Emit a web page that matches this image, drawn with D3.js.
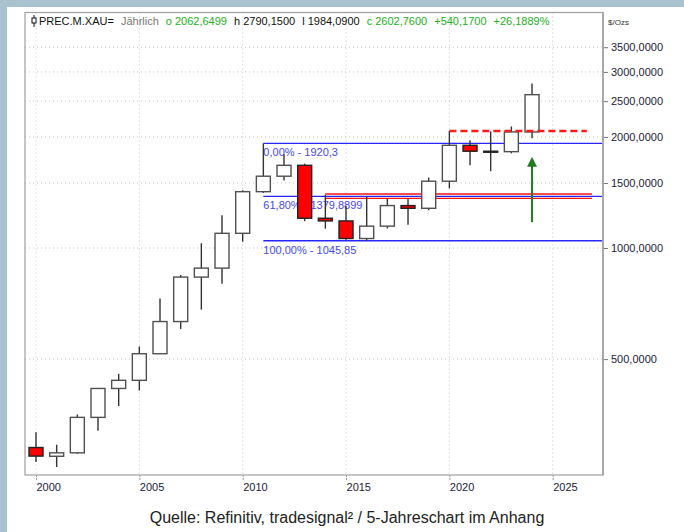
<!DOCTYPE html>
<html>
<head>
<meta charset="utf-8">
<script src="https://cdn.jsdelivr.net/npm/d3@7"></script>
<style>
  body { margin: 0; background: #fff; }
  svg text { font-family: "Liberation Sans", Arial, sans-serif; }
</style>
</head>
<body>
<div id="container"></div>
<script>
/* DATA (yearly gold candles, $/oz) */
const years = [2000, 2001, 2002, 2003, 2004, 2005, 2006, 2007, 2008, 2009, 2010, 2011, 2012,
  2013, 2014, 2015, 2016, 2017, 2018, 2019, 2020, 2021, 2022, 2023, 2024];
const opens = [288, 272.7, 278.6, 347.6, 416.3, 438, 517, 632, 834, 882, 1096, 1421, 1565,
  1675, 1204, 1184, 1061, 1146, 1303, 1281, 1517, 1898, 1829, 1824, 2062.65];
const highs = [317, 293, 354, 417, 456, 541, 730, 845, 1030, 1226, 1434, 1921, 1796,
  1692, 1395, 1300, 1380, 1360, 1360, 1552, 2075, 1959, 2070, 2135, 2790.15];
const lows = [263, 255, 277, 320, 373, 411, 517, 603, 681, 800, 1040, 1410, 1524,
  1182, 1128, 1052, 1046, 1130, 1156, 1266, 1451, 1677, 1615, 1805, 1984.09];
const closes = [273, 278.6, 347.6, 416.3, 438, 517, 632, 834, 882, 1096, 1421, 1565, 1675,
  1204, 1184, 1061, 1146, 1303, 1281, 1517, 1898, 1829, 1824, 2062.65, 2602.76];

const yTicks = [500, 1000, 1500, 2000, 2500, 3000, 3500];
const yTickLabels = ["500,0000", "1000,0000", "1500,0000", "2000,0000", "2500,0000", "3000,0000", "3500,0000"];
const xTicks = [2000, 2005, 2010, 2015, 2020, 2025];

// fibonacci retracement (from 2011 high)
const fibStart = 2011;
const fibValues = [1920.3, 1379.8899, 1045.85];
const fibLabels = ["0,00% - 1920,3", "61,80% - 1379,8899", "100,00% - 1045,85"];

// red support band, dashed resistance, arrow
const bandStart = 2014, bandEnd = 2026.9;
const bandValues = [1400, 1363];
const resistStart = 2020, resistEnd = 2026.65, resistValue = 2075;
const arrowYear = 2024, arrowFrom = 1175, arrowTo = 1755;

const titleParts = ["PREC.M.XAU=", "Jährlich", "o 2062,6499", "h 2790,1500", "l 1984,0900",
  "c 2602,7600", "+540,1700", "+26,1889%"];
const unitLabel = "$/Ozs";
const caption = "Quelle: Refinitiv, tradesignal² / 5-Jahreschart im Anhang";

/* CONSTANTS */
const width = 684, height = 532;
const plot = {left: 25, right: 603, top: 12.5, bottom: 475};

const svg = d3.select("#container").append("svg")
  .attr("width", width)
  .attr("height", height);

// frame bands
svg.append("rect").attr("x", 0).attr("y", 0).attr("width", width).attr("height", 7).attr("fill", "#a8c2cf");
svg.append("rect").attr("x", 0).attr("y", 0).attr("width", 7).attr("height", height).attr("fill", "#a8c2cf");

/* SCALES */
const xScale = d3.scaleLinear().domain([2000, 2025]).range([36, 552.7]);
const yScale = d3.scaleLog().domain([1000, 2000]).range([248, 136.9]);

/* GRID */
svg.append("g").selectAll("line")
  .data(yTicks)
  .join("line")
  .attr("x1", plot.left).attr("x2", plot.right)
  .attr("y1", d => yScale(d)).attr("y2", d => yScale(d))
  .attr("stroke", "#c4c4c4").attr("stroke-dasharray", "1,3");

svg.append("g").selectAll("line")
  .data(xTicks)
  .join("line")
  .attr("x1", d => xScale(d)).attr("x2", d => xScale(d))
  .attr("y1", plot.top).attr("y2", plot.bottom)
  .attr("stroke", "#c4c4c4").attr("stroke-dasharray", "1,3");

/* AXES */
const yAxis = d3.axisRight(yScale)
  .tickValues(yTicks)
  .tickFormat((d, i) => yTickLabels[i])
  .tickSize(5)
  .tickPadding(3);
const yAxisGroup = svg.append("g")
  .attr("transform", `translate(${plot.right}, 0)`)
  .call(yAxis);
yAxisGroup.select(".domain").remove();
yAxisGroup.selectAll("line").attr("stroke", "#777");
yAxisGroup.selectAll("text")
  .attr("font-family", "Liberation Sans, Arial, sans-serif")
  .attr("font-size", 11).attr("fill", "#1c1c3c");

const xAxis = d3.axisBottom(xScale)
  .tickValues(xTicks)
  .tickFormat(d3.format("d"))
  .tickSize(6)
  .tickPadding(2);
const xAxisGroup = svg.append("g")
  .attr("transform", `translate(0, ${plot.bottom})`)
  .call(xAxis);
xAxisGroup.select(".domain").remove();
xAxisGroup.selectAll("line").attr("stroke", "#999").attr("stroke-dasharray", "2,1");
xAxisGroup.selectAll("text")
  .attr("text-anchor", "start")
  .attr("font-family", "Liberation Sans, Arial, sans-serif")
  .attr("font-size", 11).attr("fill", "#1c1c3c");

svg.append("text")
  .attr("x", 608).attr("y", 25)
  .attr("font-size", 8).attr("fill", "#333")
  .text(unitLabel);

/* FIBONACCI + BAND LINES */
svg.append("g").selectAll("line")
  .data(bandValues)
  .join("line")
  .attr("x1", xScale(bandStart)).attr("x2", xScale(bandEnd))
  .attr("y1", d => yScale(d)).attr("y2", d => yScale(d))
  .attr("stroke", "#ff1010").attr("stroke-width", 1.4);

svg.append("g").selectAll("line")
  .data(fibValues)
  .join("line")
  .attr("x1", xScale(fibStart)).attr("x2", plot.right)
  .attr("y1", d => yScale(d)).attr("y2", d => yScale(d))
  .attr("stroke", "#2626ff").attr("stroke-width", 1.4);

svg.append("g").selectAll("text")
  .data(fibValues)
  .join("text")
  .attr("x", xScale(fibStart))
  .attr("y", d => yScale(d) + 13)
  .attr("font-size", 11)
  .attr("fill", "#4848f0")
  .text((d, i) => fibLabels[i]);

/* CANDLES */
const candles = years.map((yr, i) => ({yr, o: opens[i], h: highs[i], l: lows[i], c: closes[i]}));
const bodyW = 14;

svg.append("g").selectAll("line")
  .data(candles)
  .join("line")
  .attr("x1", d => xScale(d.yr)).attr("x2", d => xScale(d.yr))
  .attr("y1", d => yScale(d.h)).attr("y2", d => yScale(d.l))
  .attr("stroke", "#333").attr("stroke-width", 1.4);

svg.append("g").selectAll("rect")
  .data(candles)
  .join("rect")
  .attr("x", d => xScale(d.yr) - bodyW / 2)
  .attr("width", bodyW)
  .attr("y", d => yScale(Math.max(d.o, d.c)))
  .attr("height", d => Math.max(1, Math.abs(yScale(d.o) - yScale(d.c))))
  .attr("fill", d => d.c >= d.o ? "#fff" : "#ff0000")
  .attr("stroke", d => d.c >= d.o ? "#505050" : "#222")
  .attr("stroke-width", 1.4);

// dashed resistance
svg.append("line")
  .attr("x1", xScale(resistStart)).attr("x2", xScale(resistEnd))
  .attr("y1", yScale(resistValue)).attr("y2", yScale(resistValue))
  .attr("stroke", "#ff1a1a").attr("stroke-width", 2.5)
  .attr("stroke-dasharray", "7,4");

// green arrow
svg.append("defs").append("marker")
  .attr("id", "head")
  .attr("viewBox", "0 0 10 10")
  .attr("refX", 2).attr("refY", 5)
  .attr("markerWidth", 5).attr("markerHeight", 5)
  .attr("orient", "auto")
  .append("path")
  .attr("d", "M0,0 L10,5 L0,10 Z")
  .attr("fill", "#1f7f1f");

svg.append("line")
  .attr("x1", xScale(arrowYear)).attr("x2", xScale(arrowYear))
  .attr("y1", yScale(arrowFrom)).attr("y2", yScale(arrowTo) + 7)
  .attr("stroke", "#1f7f1f").attr("stroke-width", 2)
  .attr("marker-end", "url(#head)");

/* FRAME */
svg.append("rect")
  .attr("x", plot.left).attr("y", plot.top)
  .attr("width", plot.right - plot.left).attr("height", plot.bottom - plot.top)
  .attr("fill", "none").attr("stroke", "#a0a0a0").attr("stroke-width", 1.2);
svg.append("line")
  .attr("x1", plot.right).attr("x2", plot.right)
  .attr("y1", plot.top).attr("y2", plot.bottom)
  .attr("stroke", "#a8a8a8").attr("stroke-width", 2);

/* TITLE */
const titleColors = ["#111", "#777", "#22b022", "#111", "#111", "#22b022", "#22b022", "#22b022"];
const title = svg.append("text")
  .attr("x", 39).attr("y", 25)
  .attr("font-size", 11);
title.selectAll("tspan")
  .data(titleParts)
  .join("tspan")
  .attr("dx", (d, i) => i === 0 ? 0 : 7)
  .attr("fill", (d, i) => titleColors[i])
  .text(d => d);

// small candle icon
svg.append("line").attr("x1", 34).attr("x2", 34).attr("y1", 15).attr("y2", 27).attr("stroke", "#111");
svg.append("rect").attr("x", 32).attr("y", 18).attr("width", 4).attr("height", 5)
  .attr("fill", "#fff").attr("stroke", "#111");

/* CAPTION */
svg.append("text")
  .attr("x", 347).attr("y", 523)
  .attr("text-anchor", "middle")
  .attr("font-size", 16)
  .attr("fill", "#222")
  .text(caption);
</script>
</body>
</html>
